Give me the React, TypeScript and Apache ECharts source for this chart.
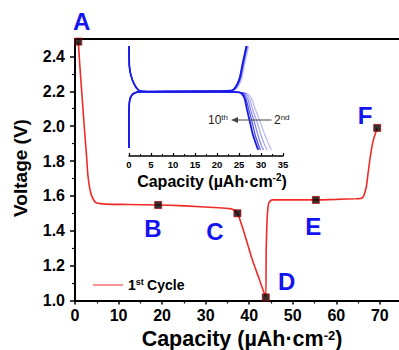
import React, { useEffect, useRef } from "react";
import * as echarts from "echarts";

// ---- main first-cycle curve (capacity µAh·cm⁻², voltage V)
const mainCurve: [number, number][] = [
  [0.76, 2.485], [1.1, 2.35], [1.54, 2.198], [2.13, 1.997], [2.75, 1.795], [2.95, 1.72],
  [3.4, 1.64], [3.83, 1.6], [4.4, 1.572], [4.98, 1.559], [7, 1.553], [12, 1.551],
  [19.1, 1.548], [24, 1.544], [28.7, 1.538], [33, 1.532], [35.5, 1.527], [36.3, 1.522],
  [37.3, 1.5], [37.9, 1.462], [39.2, 1.36], [40.6, 1.242], [42.2, 1.13], [43.8, 1.018],
  [43.9, 1.29], [44.1, 1.46], [44.4, 1.548], [44.8, 1.57], [45.4, 1.577], [50, 1.577],
  [55.3, 1.577], [60, 1.58], [64.5, 1.584], [65.8, 1.587], [66.3, 1.6], [66.9, 1.653],
  [67.3, 1.73], [67.7, 1.806], [68.1, 1.87], [68.5, 1.92], [69.4, 1.99],
];
const pointNames = ["A", "B", "C", "D", "E", "F"];
const pointValues: [number, number][] = [
  [0.76, 2.485], [19.1, 1.548], [37.3, 1.5], [43.8, 1.018], [55.3, 1.577], [69.4, 1.99],
];
const xTicks = [0, 10, 20, 30, 40, 50, 60, 70];
const yTicks = [1.0, 1.2, 1.4, 1.6, 1.8, 2.0, 2.2, 2.4];

// ---- inset: cycles 2..10
const insetCycles = ["2nd", "4th", "6th", "8th", "10th"];
const dischargeHead: [number, number][] = [
  [0, 2.465], [0.02, 2.41], [0.08, 2.35], [0.4, 2.3], [1.15, 2.246], [2.1, 2.212],
  [3, 2.203], [10, 2.2], [20, 2.2], [25, 2.198],
];
const dischargeTail2: [number, number][] = [[27.0, 2.19], [27.9, 2.16], [28.7, 2.1], [29.7, 2.035], [30.9, 1.95], [31.9, 1.89], [32.4, 1.865]];
const dischargeTail4: [number, number][] = [[26.6, 2.19], [27.4, 2.16], [28.1, 2.1], [29.0, 2.035], [30.0, 1.95], [30.9, 1.89], [31.4, 1.865]];
const dischargeTail6: [number, number][] = [[26.2, 2.19], [27.0, 2.16], [27.6, 2.1], [28.4, 2.035], [29.3, 1.95], [30.1, 1.89], [30.6, 1.865]];
const dischargeTail8: [number, number][] = [[25.9, 2.19], [26.6, 2.16], [27.2, 2.1], [27.9, 2.035], [28.7, 1.95], [29.5, 1.89], [29.9, 1.865]];
const dischargeTail10: [number, number][] = [[25.6, 2.19], [26.3, 2.16], [26.8, 2.1], [27.4, 2.035], [28.2, 1.95], [29.0, 1.89], [29.4, 1.865]];
const chargeHead: [number, number][] = [
  [0, 1.876], [0, 2.075], [0.15, 2.15], [0.77, 2.186], [2.1, 2.2], [10, 2.203], [20, 2.205], [23.0, 2.207],
];
const chargeTail2: [number, number][] = [[24.3, 2.215], [25.1, 2.245], [25.7, 2.285], [26.3, 2.36], [26.8, 2.42], [27.2, 2.465]];
const chargeTail6: [number, number][] = [[24.0, 2.215], [24.8, 2.245], [25.4, 2.285], [26.0, 2.36], [26.5, 2.42], [26.9, 2.465]];
const chargeTail10: [number, number][] = [[23.8, 2.215], [24.6, 2.245], [25.2, 2.285], [25.8, 2.36], [26.3, 2.42], [26.7, 2.465]];
const dischargeTails = [dischargeTail2, dischargeTail4, dischargeTail6, dischargeTail8, dischargeTail10];
const chargeTails = [chargeTail2, chargeTail6, chargeTail6, chargeTail10, chargeTail10];
const insetOpacity = [0.3, 0.4, 0.55, 0.8, 1];
const insetTicks = [0, 5, 10, 15, 20, 25, 30, 35];

const FONT = "'Liberation Sans', Arial, sans-serif";
const RED = "#ef2b27";
const BLUE = "#1a1ae8";

export default function App() {
  const ref = useRef<HTMLDivElement>(null);
  useEffect(() => {
    if (!ref.current) return;
    const chart = echarts.init(ref.current, undefined, { renderer: "svg" });

    const insetSeries: any[] = [];
    insetCycles.forEach((c, i) => {
      insetSeries.push({
        type: "line", name: "d" + c, xAxisIndex: 2, yAxisIndex: 1,
        data: [...dischargeHead, ...dischargeTails[i]],
        symbol: "none", smooth: 0.2,
        lineStyle: { color: BLUE, width: i === 4 ? 1.8 : 1.2, opacity: insetOpacity[i] },
        z: 3,
      });
      insetSeries.push({
        type: "line", name: "c" + c, xAxisIndex: 2, yAxisIndex: 1,
        data: [...chargeHead, ...chargeTails[i]],
        symbol: "none", smooth: 0.2,
        lineStyle: { color: BLUE, width: i === 4 ? 1.8 : 1.2, opacity: insetOpacity[i] },
        z: 3,
      });
    });

    const labelPos: Record<string, [number, number]> = {
      A: [81.7, 21.7], B: [153, 228.3], C: [215, 231.7], D: [286.7, 281.7], E: [313.3, 226.7], F: [365, 115],
    };

    chart.setOption({
      animation: false,
      textStyle: { fontFamily: FONT },
      grid: [
        { left: 75, top: 39, width: 324, height: 261.5 },
        { left: 129, top: 40, width: 154, height: 116 },
      ],
      xAxis: [
        {
          gridIndex: 0, type: "value", min: 0, max: 74.4, interval: 10,
          axisLine: { lineStyle: { color: "#000", width: 2 } },
          axisTick: { show: true, length: 4, lineStyle: { width: 1.5, color: "#000" }, customValues: xTicks },
          minorTick: { show: true, splitNumber: 2, length: 3, lineStyle: { color: "#000", width: 1.2 } },
          axisLabel: { color: "#000", fontSize: 16, fontWeight: "bold", fontFamily: FONT, margin: 7, customValues: xTicks },
          splitLine: { show: false },
        },
        {
          gridIndex: 0, type: "value", position: "top", min: 0, max: 74.4,
          axisLine: { show: true, lineStyle: { color: "#000", width: 2 } },
          axisTick: { show: false }, axisLabel: { show: false }, splitLine: { show: false },
        },
        {
          gridIndex: 1, type: "value", min: 0, max: 35, interval: 5,
          axisLine: { lineStyle: { color: "#000", width: 1.5 } },
          axisTick: { show: true, inside: true, length: 3, lineStyle: { color: "#000", width: 1.2 } },
          minorTick: { show: true, splitNumber: 2, length: 2, lineStyle: { color: "#000" } },
          axisLabel: { color: "#000", fontSize: 9.5, fontWeight: "bold", fontFamily: FONT, margin: 3, customValues: insetTicks },
          splitLine: { show: false },
        },
      ],
      yAxis: [
        {
          gridIndex: 0, type: "value", min: 1.0, max: 2.5, interval: 0.2,
          axisLine: { show: true, lineStyle: { color: "#000", width: 2 } },
          axisTick: { show: true, length: 5, lineStyle: { width: 1.5, color: "#000" }, customValues: yTicks },
          minorTick: { show: true, splitNumber: 2, length: 3, lineStyle: { color: "#000", width: 1.2 } },
          axisLabel: {
            color: "#000", fontSize: 16, fontWeight: "bold", fontFamily: FONT, margin: 10,
            customValues: yTicks, formatter: (v: number) => v.toFixed(1),
          },
          splitLine: { show: false },
        },
        { gridIndex: 1, type: "value", min: 1.83, max: 2.5, show: false },
      ],
      legend: {
        show: true, data: ["1st Cycle"], left: 88, top: 272, itemWidth: 30, itemHeight: 14,
        icon: "path://M0,0H30V1H0Z",
        formatter: () => "{n|1}{s|st} {n|Cycle}",
        textStyle: {
          rich: {
            n: { fontSize: 14, fontWeight: "bold", color: "#000", fontFamily: FONT, lineHeight: 16 },
            s: { fontSize: 9, fontWeight: "bold", color: "#000", fontFamily: FONT, verticalAlign: "top", lineHeight: 10 },
          },
        },
      },
      series: [
        ...insetSeries,
        {
          type: "line", name: "1st Cycle", xAxisIndex: 0, yAxisIndex: 0,
          data: mainCurve, symbol: "none", smooth: 0.15,
          lineStyle: { color: RED, width: 1.6 }, itemStyle: { color: RED }, z: 4,
        },
        {
          type: "scatter", name: "points", xAxisIndex: 0, yAxisIndex: 0,
          data: pointValues.map((p, i) => ({ value: p, name: pointNames[i] })),
          symbol: "rect", symbolSize: 7,
          itemStyle: { color: "#000", borderColor: "#b01010", borderWidth: 1 }, z: 5,
        },
      ],
      graphic: [
        ...pointNames.map((n) => ({
          type: "text", x: labelPos[n][0], y: labelPos[n][1],
          style: {
            text: n, fill: "#1414f0", font: `bold 24px ${FONT}`,
            textAlign: "center", textVerticalAlign: "middle",
          },
        })),
        {
          type: "text", x: 20, y: 168, rotation: Math.PI / 2,
          style: { text: "Voltage (V)", fill: "#000", font: `bold 19px ${FONT}`, textAlign: "center", textVerticalAlign: "middle" },
        },
        {
          type: "text", x: 242, y: 339,
          style: {
            text: "{n|Capacity (µAh·cm}{s|-2}{n|)}", textAlign: "center", textVerticalAlign: "middle",
            rich: {
              n: { fontSize: 21.5, fontWeight: "bold", fill: "#000", fontFamily: FONT, lineHeight: 20 },
              s: { fontSize: 13, fontWeight: "bold", fill: "#000", fontFamily: FONT, verticalAlign: "top", lineHeight: 12 },
            },
          },
        },
        {
          type: "text", x: 212, y: 181.5,
          style: {
            text: "{n|Capacity (µAh·cm}{s|-2}{n|)}", textAlign: "center", textVerticalAlign: "middle",
            rich: {
              n: { fontSize: 16, fontWeight: "bold", fill: "#000", fontFamily: FONT, lineHeight: 18 },
              s: { fontSize: 10, fontWeight: "bold", fill: "#000", fontFamily: FONT, verticalAlign: "top", lineHeight: 11 },
            },
          },
        },
        {
          type: "line", shape: { x1: 236, y1: 120, x2: 271.5, y2: 120 },
          style: { stroke: "#444", lineWidth: 1.2 }, z: 10,
        },
        {
          type: "polygon", shape: { points: [[231, 120], [238, 117], [238, 123]] },
          style: { fill: "#444" }, z: 10,
        },
        {
          type: "text", x: 228, y: 120,
          style: {
            text: "{n|10}{s|th}", textAlign: "right", textVerticalAlign: "middle",
            rich: {
              n: { fontSize: 12, fill: "#222", fontFamily: FONT, lineHeight: 14 },
              s: { fontSize: 8, fill: "#222", fontFamily: FONT, verticalAlign: "top", lineHeight: 9 },
            },
          },
          z: 10,
        },
        {
          type: "text", x: 274, y: 120,
          style: {
            text: "{n|2}{s|nd}", textAlign: "left", textVerticalAlign: "middle",
            rich: {
              n: { fontSize: 12, fill: "#222", fontFamily: FONT, lineHeight: 14 },
              s: { fontSize: 8, fill: "#222", fontFamily: FONT, verticalAlign: "top", lineHeight: 9 },
            },
          },
          z: 10,
        },
      ],
    });
    return () => chart.dispose();
  }, []);
  return (
    <div
      ref={ref}
      style={{ position: "fixed", left: 0, top: 0, width: 399, height: 350, background: "#fff" }}
    />
  );
}
